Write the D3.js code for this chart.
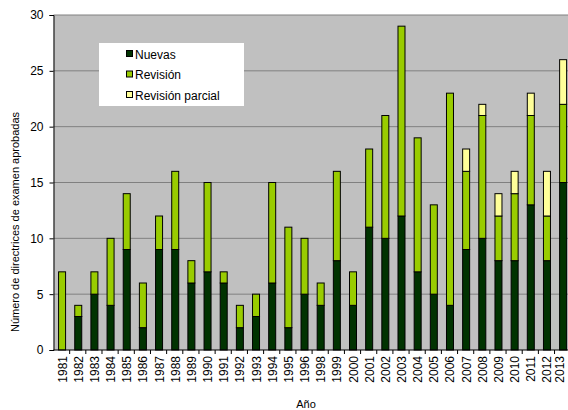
<!DOCTYPE html>
<html><head><meta charset="utf-8">
<script src="https://cdn.jsdelivr.net/npm/d3@7"></script>
<style>body{margin:0;background:#fff}svg{display:block;font-family:"Liberation Sans",Arial,sans-serif}</style>
</head><body><svg id="c" width="568" height="410"></svg>
<script>
const years = ["1981","1982","1983","1984","1985","1986","1987","1988","1989","1990","1991","1992","1993","1994","1995","1996","1998","1999","2000","2001","2002","2003","2004","2005","2006","2007","2008","2009","2010","2011","2012","2013"];
const nuevas = [0,3,5,4,9,2,9,9,6,7,6,2,3,6,2,5,4,8,4,11,10,12,7,5,4,9,10,8,8,13,8,15];
const revision = [7,1,2,6,5,4,3,7,2,8,1,2,2,9,9,5,2,8,3,7,11,17,12,8,19,7,11,4,6,8,4,7];
const parcial = [0,0,0,0,0,0,0,0,0,0,0,0,0,0,0,0,0,0,0,0,0,0,0,0,0,2,1,2,2,2,4,4];
const seriesNames = ["Nuevas","Revisión","Revisión parcial"];
const colors = ["#003300","#99cc00","#ffff99"];
const yTicks = [0,5,10,15,20,25,30];

const svg = d3.select("#c");
const L = 53.5, T = 15, B = 350, R = 570.7;
const x = d3.scaleBand().domain(years).range([L, R]).paddingInner(0).paddingOuter(0);
const y = d3.scaleLinear().domain([0,30]).range([B, T]);

svg.append("rect").attr("x",L).attr("y",T).attr("width",R-L).attr("height",B-T).attr("fill","#c0c0c0");
svg.append("g").selectAll("line").data(yTicks.filter(d=>d>0)).join("line")
  .attr("x1",L).attr("x2",R).attr("y1",d=>y(d)).attr("y2",d=>y(d)).attr("stroke","#808080").attr("stroke-width",1);

const rows = years.map((yr,i)=>({year:yr, Nuevas:nuevas[i], "Revisión":revision[i], "Revisión parcial":parcial[i]}));
const stacked = d3.stack().keys(seriesNames)(rows);
const bw = 7;
stacked.forEach((s,si)=>{
  svg.append("g").selectAll("rect").data(s.filter(d=>d[1]-d[0]>0)).join("rect")
    .attr("x",d=>x(d.data.year)+x.bandwidth()/2-bw/2+0.5)
    .attr("y",d=>y(d[1]))
    .attr("width",bw)
    .attr("height",d=>y(d[0])-y(d[1]))
    .attr("fill",colors[si]).attr("stroke","#000").attr("stroke-width",1);
});

// axes
const yAxis = d3.axisLeft(y).tickValues(yTicks).tickSize(4).tickPadding(6);
const gy = svg.append("g").attr("transform",`translate(${L},0)`).call(yAxis);
gy.select(".domain").attr("stroke","#000");
gy.selectAll("text").attr("font-size",12).attr("fill","#000").attr("font-family","Liberation Sans, Arial, sans-serif");
gy.selectAll(".tick line").attr("stroke","#000");

const gx = svg.append("g").attr("transform",`translate(0,${B})`);
gx.append("line").attr("x1",L).attr("x2",R).attr("y1",0).attr("y2",0).attr("stroke","#000");
gx.selectAll("line.t").data(years).join("line").attr("class","t")
  .attr("x1",d=>x(d)+x.bandwidth()).attr("x2",d=>x(d)+x.bandwidth()).attr("y1",0).attr("y2",4).attr("stroke","#000");
gx.selectAll("text").data(years).join("text")
  .attr("transform",d=>`translate(${Math.min(x(d)+x.bandwidth()/2+5, 563.5)},6) rotate(-90)`)
  .attr("text-anchor","end").attr("font-size",12).attr("fill","#000").text(d=>d);

svg.append("text").attr("x",306).attr("y",408).attr("text-anchor","middle").attr("font-size",11).text("Año");
svg.append("text").attr("transform","translate(19,222) rotate(-90)").attr("text-anchor","middle").attr("font-size",11).text("Número de directrices de examen aprobadas");

// legend
const lg = svg.append("g");
lg.append("rect").attr("x",99).attr("y",43).attr("width",145).attr("height",63).attr("fill","#fff");
seriesNames.forEach((n,i)=>{
  const cy = 54 + i*20.5;
  lg.append("rect").attr("x",126.5).attr("y",cy-3.5).attr("width",6).attr("height",6).attr("fill",colors[i]).attr("stroke","#000").attr("stroke-width",1);
  lg.append("text").attr("x",135).attr("y",cy+4.5).attr("font-size",12).text(n);
});
</script></body></html>
